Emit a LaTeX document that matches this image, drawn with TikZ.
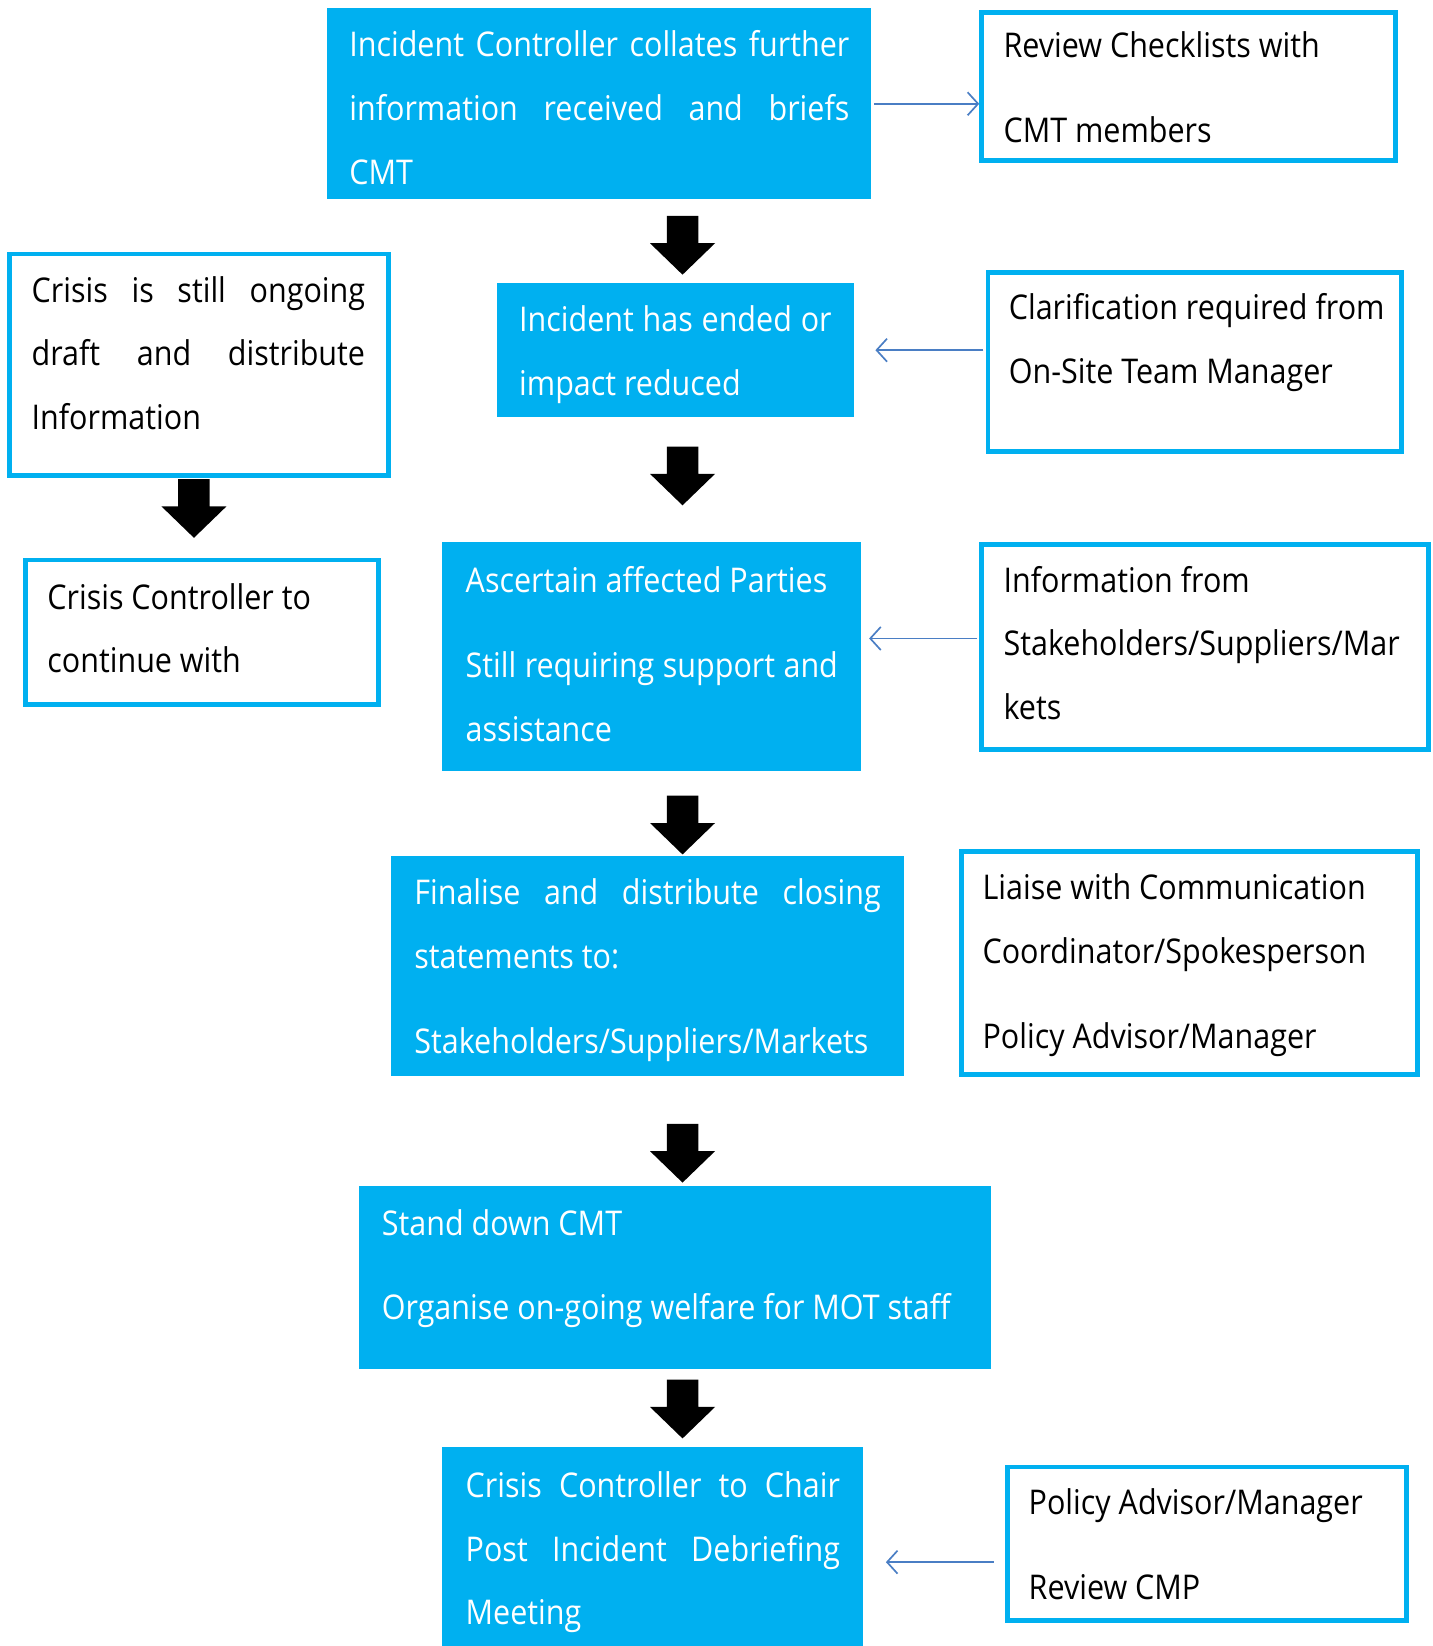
\documentclass[tikz,border=0pt]{standalone}
\usepackage{fontspec}
\setmainfont{Open Sans}[FakeStretch=0.895]
\usetikzlibrary{arrows.meta,calc}
\definecolor{cyanbox}{HTML}{00B0F0}
\definecolor{connblue}{HTML}{4A7EC4}
\newcommand\fs{\fontsize{32.5}{40}\selectfont}
\newcommand\jl[2]{\makebox[#1pt][s]{#2}}
\newcommand\barrow[2]{\fill[black] (#1-15,-#2) -- (#1+15,-#2) -- (#1+15,-#2-26) -- (#1+31,-#2-26) -- (#1,-#2-56) -- (#1-31,-#2-26) -- (#1-15,-#2-26) -- cycle;}
\tikzset{
 bluebox/.style={fill=cyanbox, draw=none, inner sep=0pt, outer sep=0pt, anchor=north west},
 whitebox/.style={draw=cyanbox, line width=4.5pt, fill=white, inner sep=0pt, anchor=north west},
 wtext/.style={anchor=base west, inner sep=0pt, text=white, font=\fs},
 btext/.style={anchor=base west, inner sep=0pt, text=black, font=\fs},
 conn/.style={draw=connblue, line width=1.6pt, -{Straight Barb[length=10pt,width=22pt,line width=1.6pt]}},
}
\begin{document}
\begin{tikzpicture}[x=1pt,y=1pt]
\useasboundingbox (0,0) rectangle (1366,-1570);
% blue boxes
\node[bluebox, minimum width=519pt, minimum height=182pt] (B1) at (312,-8) {};
\node[bluebox, minimum width=341pt, minimum height=128pt] (B2) at (474,-270) {};
\node[bluebox, minimum width=399pt, minimum height=218pt] (B3) at (422,-517) {};
\node[bluebox, minimum width=489pt, minimum height=210pt] (B4) at (373,-816) {};
\node[bluebox, minimum width=603pt, minimum height=175pt] (B5) at (342,-1131) {};
\node[bluebox, minimum width=401pt, minimum height=192pt] (B6) at (422,-1380) {};
% white boxes (anchored at outer corner)
\node[whitebox, minimum width=394.5pt, minimum height=140.5pt] (R1) at (934,-10) {};
\node[whitebox, minimum width=394.5pt, minimum height=170.5pt] (R2) at (940,-258) {};
\node[whitebox, minimum width=361.5pt, minimum height=211.5pt] (L1) at (7,-240) {};
\node[whitebox, minimum width=336.5pt, minimum height=137.5pt] (L2) at (22,-532) {};
\node[whitebox, minimum width=426.5pt, minimum height=195.5pt] (R3) at (934,-517) {};
\node[whitebox, minimum width=434.5pt, minimum height=212.5pt] (R4) at (915,-810) {};
\node[whitebox, minimum width=380.5pt, minimum height=146.5pt] (R6) at (959,-1397) {};
% texts
\node[wtext] (b1a) at (333,-54) {\jl{477}{Incident Controller collates further}};
\node[wtext] (b1b) at (333,-115) {\jl{477}{information received and briefs}};
\node[wtext] (b1c) at (333,-176) {CMT};
\node[btext] (r1a) at (957,-55) {Review Checklists with};
\node[btext] (r1b) at (957,-136) {CMT members};
\node[wtext] (b2a) at (495,-316) {\jl{298}{Incident has ended or}};
\node[wtext] (b2b) at (495,-377) {impact reduced};
\node[btext] (r2a) at (962,-305) {Clarification required from};
\node[btext] (r2b) at (962,-366) {On-Site Team Manager};
\node[btext] (l1a) at (30,-289) {\jl{318}{Crisis is still ongoing}};
\node[btext] (l1b) at (30,-349) {\jl{318}{draft and distribute}};
\node[btext] (l1c) at (30,-410) {Information};
\node[btext] (l2a) at (45,-581) {Crisis Controller to};
\node[btext] (l2b) at (45,-641) {continue with};
\node[wtext] (b3a) at (444,-565) {Ascertain affected Parties};
\node[wtext] (b3b) at (444,-646) {\jl{355}{Still requiring support and}};
\node[wtext] (b3c) at (444,-707) {assistance};
\node[btext] (r3a) at (957,-565) {Information from};
\node[btext] (r3b) at (957,-625) {Stakeholders/Suppliers/Mar};
\node[btext] (r3c) at (957,-686) {kets};
\node[wtext] (b4a) at (395,-863) {\jl{445}{Finalise and distribute closing}};
\node[wtext] (b4b) at (395,-924) {statements to:};
\node[wtext] (b4c) at (395,-1005) {Stakeholders/Suppliers/Markets};
\node[btext] (r4a) at (937,-858) {Liaise with Communication};
\node[btext] (r4b) at (937,-919) {Coordinator/Spokesperson};
\node[btext] (r4c) at (937,-1000) {Policy Advisor/Manager};
\node[wtext] (b5a) at (364,-1178) {Stand down CMT};
\node[wtext] (b5b) at (364,-1259) {Organise on-going welfare for MOT staff};
\node[wtext] (b6a) at (444,-1428) {\jl{357}{Crisis Controller to Chair}};
\node[wtext] (b6b) at (444,-1489) {\jl{357}{Post Incident Debriefing}};
\node[wtext] (b6c) at (444,-1549) {Meeting};
\node[btext] (r6a) at (981,-1445) {Policy Advisor/Manager};
\node[btext] (r6b) at (981,-1526) {Review CMP};
% block arrows
\barrow{651}{206}
\barrow{651}{426}
\barrow{651}{759}
\barrow{651}{1072}
\barrow{651}{1316}
\barrow{185}{457}
% thin connectors
\coordinate (c3) at (0,-609);
\coordinate (c6) at (0,-1490);
\draw[conn] ([xshift=3pt]B1.east) -- (B1.east -| R1.west);
\draw[conn] ([xshift=-2pt]R2.west |- B2.east) -- ([xshift=20pt]B2.east);
\draw[conn] ([xshift=-2pt]R3.west |- c3) -- ([xshift=8pt]B3.east |- c3);
\draw[conn] ([xshift=-11pt]R6.west |- c6) -- ([xshift=22pt]B6.east |- c6);
\end{tikzpicture}
\end{document}
